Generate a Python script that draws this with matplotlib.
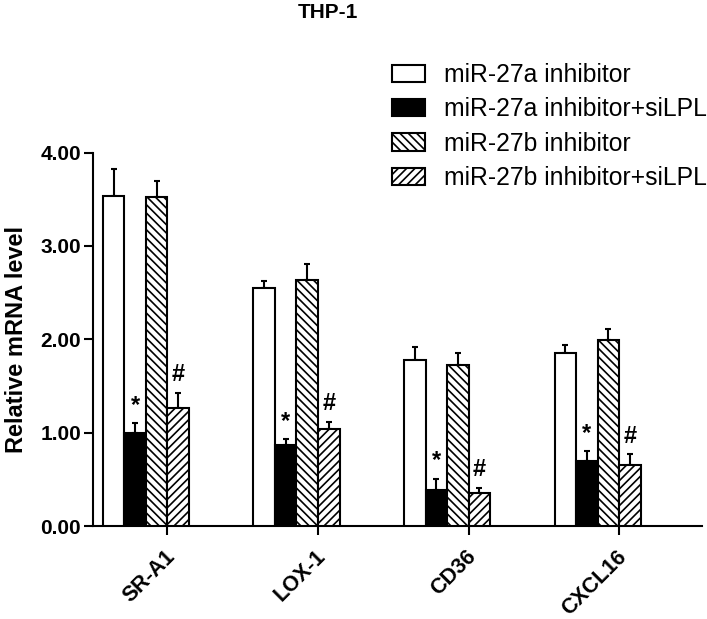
import matplotlib.pyplot as plt
import matplotlib.patches as mpatches
from matplotlib.transforms import ScaledTranslation
import numpy as np

plt.rcParams['font.family'] = ['Liberation Sans', 'DejaVu Sans']
plt.rcParams['hatch.linewidth'] = 1.2

genes = ['SR-A1', 'LOX-1', 'CD36', 'CXCL16']
series = ['miR-27a inhibitor', 'miR-27a inhibitor+siLPL',
          'miR-27b inhibitor', 'miR-27b inhibitor+siLPL']

a_inh = [3.53, 2.55, 1.78, 1.85]
a_inh_err = [0.29, 0.07, 0.14, 0.09]
a_si = [1.00, 0.87, 0.39, 0.70]
a_si_err = [0.10, 0.06, 0.12, 0.10]
b_inh = [3.52, 2.63, 1.73, 1.99]
b_inh_err = [0.18, 0.18, 0.12, 0.12]
b_si = [1.27, 1.04, 0.35, 0.65]
b_si_err = [0.16, 0.08, 0.06, 0.12]

values = [a_inh, a_si, b_inh, b_si]
errors = [a_inh_err, a_si_err, b_inh_err, b_si_err]
fills = ['white', 'black', 'white', 'white']
hatches = [None, None, '\\\\\\\\', '////']
marks = [None, '*', None, '#']

fig = plt.figure(figsize=(7.07, 6.19), dpi=100)
ax = fig.add_axes([0.1315, 0.150, 0.8615, 0.6036])

x = np.arange(len(genes))
w = 0.143
for i in range(4):
    pos = x + (i - 1.5) * w
    ax.bar(pos, values[i], w, color=fills[i], edgecolor='black',
           linewidth=1.5, hatch=hatches[i], zorder=3)
    ax.errorbar(pos, values[i], yerr=[np.zeros(4), errors[i]], fmt='none',
                ecolor='black', elinewidth=1.5, capsize=2.5, capthick=1.5,
                zorder=2)
    if marks[i]:
        for p, v, e in zip(pos, values[i], errors[i]):
            ax.text(p, v + e + 0.07, marks[i], ha='center', va='bottom',
                    fontsize=17, fontweight='bold')

ax.set_xlim(-0.352, 3.694)
ax.set_ylim(0, 4)
ax.set_yticks([0, 1, 2, 3, 4])
ax.set_yticklabels(['0.00', '1.00', '2.00', '3.00', '4.00'],
                   fontsize=15, fontweight='bold')
ax.set_xticks(x + w)
ax.set_xticklabels(genes, rotation=45, ha='right', rotation_mode='anchor',
                   fontsize=15.5, fontweight='bold')
ax.tick_params(axis='both', width=1.5, length=6.5, direction='out')
ax.tick_params(axis='y', pad=2)
ax.tick_params(axis='x', pad=8)
for lbl in ax.get_xticklabels():
    lbl.set_transform(lbl.get_transform() +
                      ScaledTranslation(-0.03, 0, fig.dpi_scale_trans))
ax.set_ylabel('Relative mRNA level', fontsize=17, fontweight='bold',
              labelpad=9)
for s in ['top', 'right']:
    ax.spines[s].set_visible(False)
for s in ['left', 'bottom']:
    ax.spines[s].set_linewidth(1.5)

fig.text(0.464, 0.98, 'THP-1', ha='center', va='center', fontsize=15,
         fontweight='bold')

handles = [mpatches.Patch(facecolor=fills[i], edgecolor='black',
                          linewidth=1.5, hatch=hatches[i]) for i in range(4)]
fig.legend(handles, series, loc='upper left',
           bbox_to_anchor=(392 / 707, 1 - 63 / 619), frameon=False,
           fontsize=17.8, handlelength=1.35, handleheight=0.7,
           handletextpad=0.75, labelspacing=0.42, borderpad=0,
           borderaxespad=0)

fig.savefig('out.png', dpi=100)
